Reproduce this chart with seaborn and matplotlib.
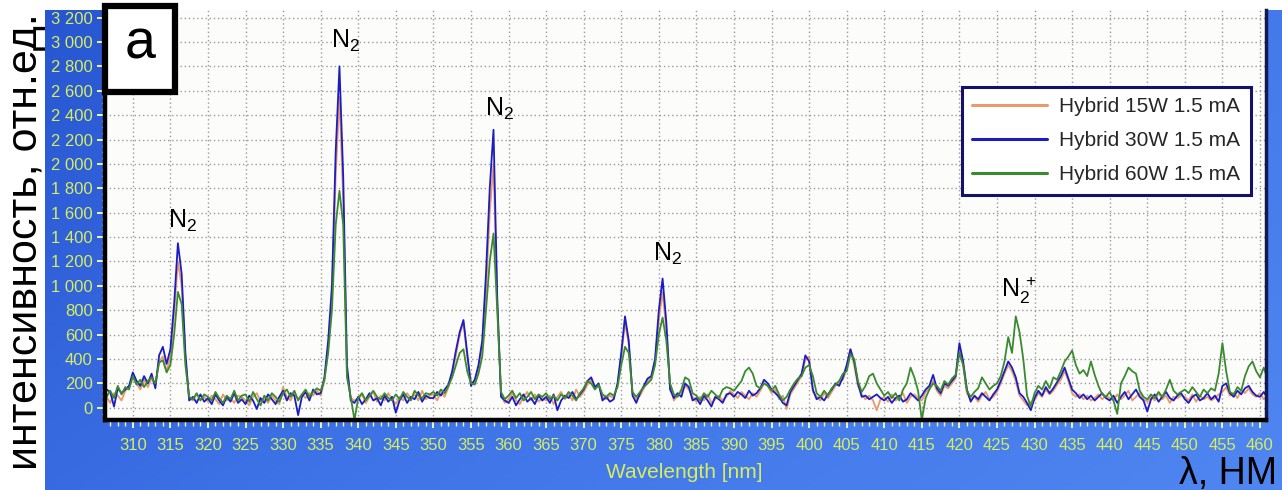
import numpy as np
import pandas as pd
import matplotlib
matplotlib.use("Agg")
import matplotlib.pyplot as plt
from matplotlib.colors import LinearSegmentedColormap
from matplotlib.lines import Line2D
from matplotlib.patches import Rectangle
from matplotlib.ticker import MultipleLocator, FixedLocator, FuncFormatter
import seaborn as sns

# Spectrometer grid, 0.5 nm sampling (each row below = 5 nm)
wavelength = np.arange(305.0, 461.01, 0.5)

hybrid_15w = [
    100, 70, 130, 90, 40, 120, 100, 60, 140, 170,         # 305
    250, 200, 150, 230, 170, 240, 190, 380, 420, 300,     # 310
    420, 780, 1200, 1000, 400, 80, 60, 110, 70, 90,       # 315
    50, 100, 70, 30, 110, 60, 80, 40, 100, 90,            # 320
    60, 20, 90, 120, 50, 80, 40, 100, 60, 30,             # 325
    170, 90, 60, 130, 70, 110, 80, 120, 100, 140,         # 330
    100, 220, 500, 900, 1900, 2550, 1700, 300, 80, 60,    # 335
    70, 110, 40, 90, 130, 50, 100, 60, 120, 70,           # 340
    30, 90, 60, 120, 80, 110, 60, 140, 70, 100,           # 345
    110, 60, 130, 90, 170, 280, 430, 600, 700, 420,       # 350
    220, 200, 320, 500, 950, 1600, 2000, 850, 110, 40,    # 355
    70, 120, 60, 30, 90, 130, 60, 110, 50, 80,            # 360
    60, 100, 30, 90, 130, 70, 110, 60, 150, 90,           # 365
    130, 190, 230, 160, 180, 90, 70, 100, 80, 180,        # 370
    420, 700, 520, 120, 70, 100, 160, 220, 250, 380,      # 375
    720, 950, 640, 180, 60, 100, 130, 180, 150, 90,       # 380
    50, 90, 60, 110, 40, 70, 100, 60, 90, 140,            # 385
    110, 80, 130, 100, 70, 120, 90, 140, 200, 180,        # 390
    120, 150, 70, 100, -10, 110, 160, 210, 260, 400,      # 395
    420, 130, 90, 60, 120, 80, 130, 180, 210, 230,        # 400
    320, 480, 350, 180, 110, 70, 100, 60, -20, 70,        # 405
    90, 50, 110, 60, 80, 120, 40, 90, 110, 80,            # 410
    60, 130, 160, 220, 140, 100, 180, 160, 200, 240,      # 415
    480, 350, 120, 70, 90, 50, 100, 130, 70, 90,          # 420
    130, 200, 280, 350, 300, 220, 100, 60, 20, 50,        # 425
    60, 120, 90, 150, 110, 140, 190, 230, 300, 220,       # 430
    120, 90, 110, 70, 100, 60, 80, 110, 70, 100,          # 435
    80, 60, 110, 70, 100, 140, 60, 90, 120, 70,           # 440
    50, 90, 60, 120, 70, 100, 40, 90, 80, 100,            # 445
    90, 60, 110, 50, 100, 70, 90, 60, 80, 110,            # 450
    130, 170, 100, 120, 80, 150, 120, 160, 110, 90,       # 455
    120, 70, 100,                                         # 460
]

hybrid_30w = [
    60, 110, 40, 150, 130, 10, 160, 120, 150, 180,        # 305
    290, 220, 180, 260, 200, 280, 160, 430, 500, 360,     # 310
    480, 850, 1350, 1100, 450, 60, 90, 40, 110, 50,       # 315
    80, 30, 110, 60, 20, 90, 50, 120, 40, 70,             # 320
    30, 100, 60, -10, 80, 40, 110, 70, 30, 90,            # 325
    140, 60, 120, 100, -60, 90, 130, 60, 150, 110,        # 330
    120, 250, 550, 1000, 2100, 2800, 1900, 350, 60, 40,   # 335
    90, 30, 70, 120, 60, 80, 20, 100, 50, 90,             # 340
    -40, 60, 110, 40, 90, 70, 130, 50, 100, 80,           # 345
    80, 130, 100, 150, 190, 300, 470, 620, 720, 450,      # 350
    180, 230, 350, 550, 1100, 1800, 2280, 900, 90, 60,    # 355
    40, 90, 20, 70, 110, 50, 80, 30, 100, 60,             # 360
    90, 40, 110, -20, 60, 100, 80, 130, 70, 110,          # 365
    150, 220, 250, 170, 200, 60, 90, 50, 70, 200,         # 370
    450, 750, 550, 100, 40, 120, 180, 240, 260, 400,      # 375
    800, 1060, 700, 150, 80, 120, 90, 200, 170, 60,       # 380
    80, 30, 100, 60, 10, 90, 70, 40, 110, 120,            # 385
    90, 130, 110, 80, 140, 100, 120, 160, 230, 200,       # 390
    150, 120, 90, 40, 20, 130, 180, 230, 280, 430,        # 395
    380, 150, 70, 90, 60, 110, 150, 200, 180, 250,        # 400
    350, 480, 380, 200, 90, 100, 70, 90, 110, 80,         # 405
    60, 90, 40, 80, 100, 50, 70, 120, 90, 60,             # 410
    100, 150, 180, 270, 160, 120, 200, 180, 220, 260,     # 415
    530, 380, 150, 50, 100, 70, 120, 90, 60, 110,         # 420
    150, 220, 300, 380, 330, 250, 120, 90, 40, -20,       # 425
    80, 140, 100, 170, 120, 160, 210, 260, 330, 240,      # 430
    150, 120, 80, 110, 70, 100, 60, 90, 120, 80,          # 435
    60, 100, 40, 90, 130, 70, 110, 150, 90, 60,           # 440
    -30, 70, 110, 50, 90, 130, 80, 60, 100, 120,          # 445
    70, 40, 90, 110, 60, 80, 120, 70, 100, 50,            # 450
    180, 200, 120, 90, 140, 110, 160, 180, 130, 100,      # 455
    90, 130, 80,                                          # 460
]

hybrid_60w = [
    70, 120, 160, 90, 140, 80, 180, 110, 170, 150,        # 305
    260, 190, 230, 170, 220, 250, 200, 370, 390, 290,     # 310
    350, 600, 950, 850, 350, 90, 70, 120, 60, 110,        # 315
    90, 60, 130, 80, 40, 100, 70, 140, 60, 100,           # 320
    110, 50, 130, 70, 20, 100, 60, 120, 90, 50,           # 325
    120, 150, 90, 140, 60, 110, 150, 90, 130, 160,        # 330
    140, 230, 450, 800, 1500, 1780, 1500, 250, 90, -100,  # 335
    80, 120, 60, 100, 140, 90, 70, 120, 80, 60,           # 340
    110, 70, 130, 90, 60, 140, 100, 80, 120, 110,         # 345
    130, 100, 150, 120, 180, 250, 350, 450, 480, 300,     # 350
    200, 190, 280, 420, 800, 1200, 1430, 800, 130, 70,    # 355
    100, 140, 80, 120, 60, 90, 130, 70, 110, 90,          # 360
    120, 70, 100, 60, 110, 80, 130, 100, 60, 120,         # 365
    160, 220, 200, 150, 190, 110, 90, 120, 100, 170,      # 370
    350, 500, 450, 130, 90, 130, 170, 200, 230, 350,      # 375
    600, 740, 550, 200, 110, 90, 150, 250, 230, 120,      # 380
    100, 60, 120, 90, 140, 110, 80, 150, 170, 160,        # 385
    140, 180, 220, 300, 330, 280, 180, 160, 200, 180,     # 390
    140, 180, 110, 60, 90, 150, 200, 240, 260, 330,       # 395
    350, 260, 120, 90, 140, 100, 160, 190, 220, 280,      # 400
    300, 440, 400, 220, 130, 180, 260, 280, 200, 150,     # 405
    100, 130, 80, 120, 60, 150, 200, 330, 250, 140,       # 410
    -100, 80, 150, 200, 180, 140, 220, 190, 240, 270,     # 415
    450, 350, 140, 90, 130, 160, 250, 200, 150, 180,      # 420
    200, 260, 380, 580, 450, 750, 620, 400, 100, 10,      # 425
    120, 180, 150, 220, 160, 250, 230, 300, 380, 420,     # 430
    470, 350, 280, 310, 260, 380, 270, 180, 110, 90,      # 435
    130, 60, -50, 200, 260, 330, 300, 280, 140, 90,       # 440
    70, 110, 80, 130, 90, 150, 230, 140, 110, 130,        # 445
    150, 120, 170, 130, 90, 150, 120, 160, 140, 280,      # 450
    530, 300, 130, 110, 170, 140, 260, 340, 380, 300,     # 455
    250, 330, 240,                                        # 460
]

series_names = ["Hybrid 15W 1.5 mA", "Hybrid 30W 1.5 mA", "Hybrid 60W 1.5 mA"]
series_colors = ["#e89a6a", "#1c1cc4", "#3a8a30"]
x_ticks = list(range(310, 461, 5))
y_ticks = list(range(0, 3201, 200))

# (wavelength, intensity, text) for the band annotations
band_labels = [
    (316.6, 1530, r"$\mathregular{N_2}$"),
    (338.3, 3010, r"$\mathregular{N_2}$"),
    (358.8, 2450, r"$\mathregular{N_2}$"),
    (381.1, 1260, r"$\mathregular{N_2}$"),
]
ion_label = (425.6, 960, r"$\mathregular{N_2^{\,+}}$")

W, H = 1282, 490
sns.set_style("white")
plt.rcParams["font.family"] = ["Liberation Sans", "DejaVu Sans"]
plt.rcParams["mathtext.fontset"] = "custom"
plt.rcParams["mathtext.rm"] = "Liberation Sans"

tick_color = "#d6ee5e"

fig = plt.figure(figsize=(W / 100, H / 100), dpi=100)
fig.patch.set_facecolor("white")

# blue gradient panel behind the chart
bg = fig.add_axes([45 / W, 0, 1 - 45 / W, 480 / H])
gx, gy = np.meshgrid(np.linspace(0, 1, 300), np.linspace(0, 1, 120))
grad = 0.65 * gx + 0.35 * gy
cmap = LinearSegmentedColormap.from_list("panel", ["#2856d2", "#3f74e8", "#4f86f0"])
bg.imshow(grad, aspect="auto", cmap=cmap, extent=[0, 1, 0, 1], origin="upper")
bg.set_axis_off()

ax = fig.add_axes([105 / W, 70 / H, (1266 - 105) / W, 410 / H])
ax.set_facecolor("#fcfcfa")

df = pd.DataFrame({
    "wavelength": np.tile(wavelength, 3),
    "intensity": np.concatenate([hybrid_15w, hybrid_30w, hybrid_60w]),
    "series": np.repeat(series_names, len(wavelength)),
})
sns.lineplot(data=df, x="wavelength", y="intensity", hue="series",
             hue_order=series_names, palette=dict(zip(series_names, series_colors)),
             estimator=None, sort=False, linewidth=1.3, legend=False, ax=ax)

ax.set_xlim(306.3, 460.8)
ax.set_ylim(-100, 3262)
ax.set_xlabel("")
ax.set_ylabel("")

ax.xaxis.set_major_locator(FixedLocator(x_ticks))
ax.xaxis.set_minor_locator(MultipleLocator(1))
ax.yaxis.set_major_locator(FixedLocator(y_ticks))
ax.yaxis.set_minor_locator(MultipleLocator(50))
ax.yaxis.set_major_formatter(FuncFormatter(lambda v, p: f"{int(v):,}".replace(",", " ")))

ax.grid(True, which="major", color="#9a9a9a", linestyle=(0, (1, 2)), linewidth=1.0)
ax.tick_params(axis="x", which="major", direction="out", length=6, width=1.4,
               color="#eef4b0", labelcolor=tick_color, labelsize=12, pad=7)
ax.tick_params(axis="x", which="minor", direction="out", length=4, width=1.0,
               color="#eef4b0")
ax.tick_params(axis="y", which="major", direction="out", length=6, width=1.4,
               color="#eef4b0", labelcolor=tick_color, labelsize=12, pad=3)
ax.tick_params(axis="y", which="minor", direction="out", length=2, width=1.0,
               color="#eef4b0")
ax.tick_params(bottom=True, left=True, which="both")

for side in ("left", "bottom"):
    ax.spines[side].set_color("black")
    ax.spines[side].set_linewidth(3.2)
ax.spines["right"].set_color("#101a50")
ax.spines["right"].set_linewidth(2.5)
ax.spines["top"].set_visible(False)

for x, y, txt in band_labels:
    ax.text(x, y, txt, ha="center", va="center", fontsize=18, color="black")
ax.text(ion_label[0], ion_label[1], ion_label[2], ha="left", va="center",
        fontsize=18, color="black")

# panel letter box
ax.add_patch(Rectangle((0.0, 0.80), 0.060, 0.21, transform=ax.transAxes,
                       facecolor="white", edgecolor="black", linewidth=4.5,
                       clip_on=False, zorder=5))
ax.text(0.030, 0.915, "a", transform=ax.transAxes, ha="center", va="center",
        fontsize=40, color="black", zorder=6)

handles = [Line2D([0], [0], color=c, linewidth=2.2) for c in series_colors]
leg = ax.legend(handles, series_names, loc="upper right",
                bbox_to_anchor=(0.987, 0.812), fontsize=15, handlelength=3.6,
                handletextpad=0.6, labelspacing=0.72, borderpad=0.5,
                borderaxespad=0, fancybox=False, framealpha=1.0)
leg.get_frame().set_edgecolor("#15106a")
leg.get_frame().set_linewidth(2.2)
leg.set_zorder(7)

fig.text(684 / W, (H - 472) / H, "Wavelength [nm]", ha="center", va="center",
         fontsize=15, color=tick_color)
fig.text(1277 / W, 6 / H, "λ, НМ", ha="right", va="baseline", fontsize=27,
         color="black")
fig.text(26 / W, (H - 242) / H, "интенсивность, отн.ед.", rotation=90,
         ha="center", va="center", fontsize=31, color="black")

fig.savefig("out.png", dpi=100, facecolor="white")
